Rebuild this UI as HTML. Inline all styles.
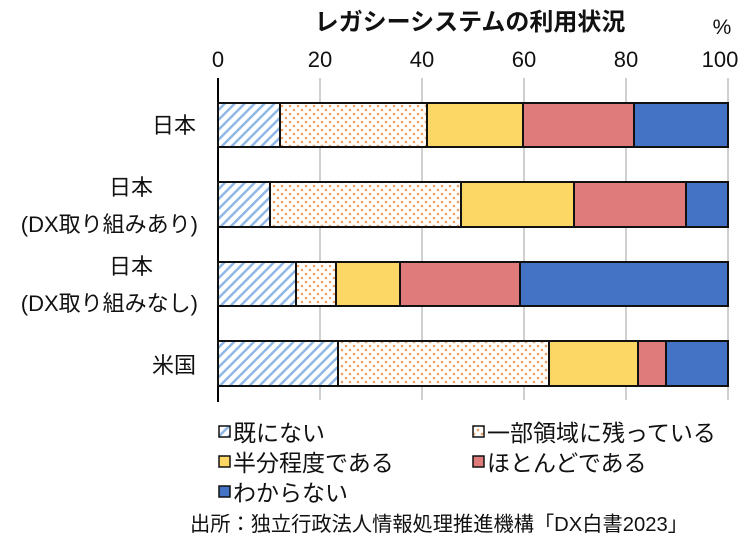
<!DOCTYPE html><html><head><meta charset="utf-8"><style>body{margin:0;background:#fff}svg{display:block}text{font-family:"Liberation Sans","Noto Sans CJK JP",sans-serif;fill:#111}</style></head><body>
<svg width="750" height="546" viewBox="0 0 750 546">
<defs>
<pattern id="h" patternUnits="userSpaceOnUse" width="7" height="7" patternTransform="rotate(45)"><rect width="7" height="7" fill="#fff"/><rect width="2.5" height="7" fill="#8fb8e6"/></pattern>
<pattern id="d" patternUnits="userSpaceOnUse" width="8" height="8"><rect width="8" height="8" fill="#fff"/><circle cx="2" cy="2" r="1.3" fill="#f0a060"/><circle cx="6" cy="6" r="1.3" fill="#f0a060"/></pattern>
</defs>
<text x="470" y="30" font-size="24" text-anchor="middle" font-weight="bold">レガシーシステムの利用状況</text>
<text x="722" y="34" font-size="21" text-anchor="middle">%</text>
<g font-size="22" text-anchor="middle">
<text x="218" y="67">0</text><text x="320" y="67">20</text><text x="422" y="67">40</text><text x="524" y="67">60</text><text x="626" y="67">80</text><text x="720" y="67">100</text></g>
<g stroke="#d0d0d0" stroke-width="2"><line x1="320" y1="78" x2="320" y2="400"/><line x1="422" y1="78" x2="422" y2="400"/><line x1="524" y1="78" x2="524" y2="400"/><line x1="626" y1="78" x2="626" y2="400"/><line x1="728" y1="78" x2="728" y2="400"/></g>
<line x1="218" y1="78" x2="218" y2="402" stroke="#000" stroke-width="2"/>
<g stroke="#111" stroke-width="2">
<rect x="218" y="103" width="62" height="44" fill="url(#h)"/><rect x="280" y="103" width="147" height="44" fill="url(#d)"/><rect x="427" y="103" width="96" height="44" fill="#fdd766"/><rect x="523" y="103" width="111" height="44" fill="#e07b7b"/><rect x="634" y="103" width="94" height="44" fill="#4472c4"/>
<rect x="218" y="182" width="52" height="45" fill="url(#h)"/><rect x="270" y="182" width="191" height="45" fill="url(#d)"/><rect x="461" y="182" width="113" height="45" fill="#fdd766"/><rect x="574" y="182" width="112" height="45" fill="#e07b7b"/><rect x="686" y="182" width="42" height="45" fill="#4472c4"/>
<rect x="218" y="262" width="78" height="44" fill="url(#h)"/><rect x="296" y="262" width="40" height="44" fill="url(#d)"/><rect x="336" y="262" width="64" height="44" fill="#fdd766"/><rect x="400" y="262" width="120" height="44" fill="#e07b7b"/><rect x="520" y="262" width="208" height="44" fill="#4472c4"/>
<rect x="218" y="341" width="120" height="45" fill="url(#h)"/><rect x="338" y="341" width="211" height="45" fill="url(#d)"/><rect x="549" y="341" width="89" height="45" fill="#fdd766"/><rect x="638" y="341" width="28" height="45" fill="#e07b7b"/><rect x="666" y="341" width="62" height="45" fill="#4472c4"/>
</g>
<g font-size="22" text-anchor="end">
<text x="196" y="133">日本</text>
<text x="153" y="195">日本</text><text x="198" y="232">(DX取り組みあり)</text>
<text x="153" y="274">日本</text><text x="198" y="311">(DX取り組みなし)</text>
<text x="196" y="373">米国</text></g>
<g stroke="#111" stroke-width="1.5">
<rect x="219" y="426" width="11" height="11" fill="url(#h)"/><rect x="473" y="426" width="11" height="11" fill="url(#d)"/>
<rect x="219" y="456" width="11" height="11" fill="#fdd766"/><rect x="473" y="456" width="11" height="11" fill="#e07b7b"/>
<rect x="219" y="486" width="11" height="11" fill="#4472c4"/></g>
<g font-size="23">
<text x="233" y="441">既にない</text><text x="487" y="441">一部領域に残っている</text>
<text x="233" y="471">半分程度である</text><text x="487" y="471">ほとんどである</text>
<text x="233" y="501">わからない</text></g>
<text x="190" y="531" font-size="20.5" textLength="498" lengthAdjust="spacingAndGlyphs">出所：独立行政法人情報処理推進機構「DX白書2023」</text>
</svg></body></html>
